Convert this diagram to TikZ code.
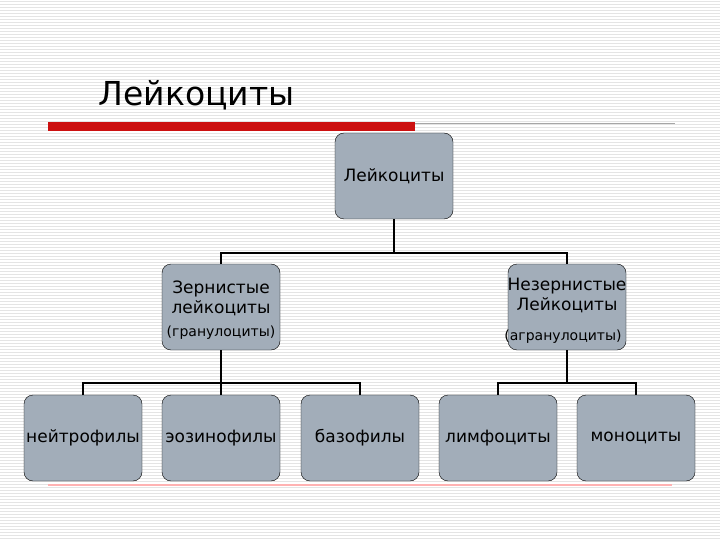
\documentclass[tikz,border=0pt]{standalone}
\usepackage{fontspec}
\setmainfont{DejaVu Sans}
\begin{document}
\begin{tikzpicture}[x=1pt,y=-1pt,
 box/.style={draw=black,fill=boxgray,rounded corners=9pt,minimum width=118pt,minimum height=86pt,inner sep=0pt,font=\fontsize{17}{20}\selectfont,align=center},
 link/.style={draw=black,line width=1.6pt}]
\definecolor{boxgray}{HTML}{A2ADB9}
\definecolor{stripe}{HTML}{E4E4E4}
\definecolor{barred}{HTML}{CC1010}
\useasboundingbox (0,0) rectangle (720,540);
\fill[white] (0,0) rectangle (720,540);
\foreach \y in {1,4,...,540} \draw[stripe,line width=0.7pt] (0,\y) -- (720,\y);
\node[anchor=west,font=\fontsize{33}{38}\selectfont] (title) at (95,95) {Лейкоциты};
\fill[barred] (48,122) rectangle (415,131);
\draw[gray!70,line width=0.8pt] (415,123) -- (675,123);
\draw[red!30,line width=1.2pt] (48,485) -- (672,485);
\node[box] (top) at (394,176) {Лейкоциты};
\node[box] (z) at (221,307) {};
\node[font=\fontsize{17}{20}\selectfont,align=center] (zt) at (221,298) {Зернистые\\лейкоциты};
\node[font=\fontsize{14}{16}\selectfont] (zp) at (221,333) {(гранулоциты)};
\node[box] (n) at (567,307) {};
\node[font=\fontsize{17}{20}\selectfont,align=center] (nt) at (567,295) {Незернистые\\Лейкоциты};
\node[font=\fontsize{14}{16}\selectfont] (np) at (563,337) {(агранулоциты)};
\node[box] (b1) at (83,438) {нейтрофилы};
\node[box] (b2) at (221,438) {эозинофилы};
\node[box] (b3) at (360,438) {базофилы};
\node[box] (b4) at (498,438) {лимфоциты};
\node[box] (b5) at (636,438) {моноциты};
\draw[link] (top.south) -- ++(0,34) -| (z.north);
\draw[link] (top.south) -- ++(0,34) -| (n.north);
\draw[link] (z.south) -- ++(0,33) -| (b1.north);
\draw[link] (z.south) -- (b2.north);
\draw[link] (z.south) -- ++(0,33) -| (b3.north);
\draw[link] (n.south) -- ++(0,33) -| (b4.north);
\draw[link] (n.south) -- ++(0,33) -| (b5.north);
\end{tikzpicture}
\end{document}
